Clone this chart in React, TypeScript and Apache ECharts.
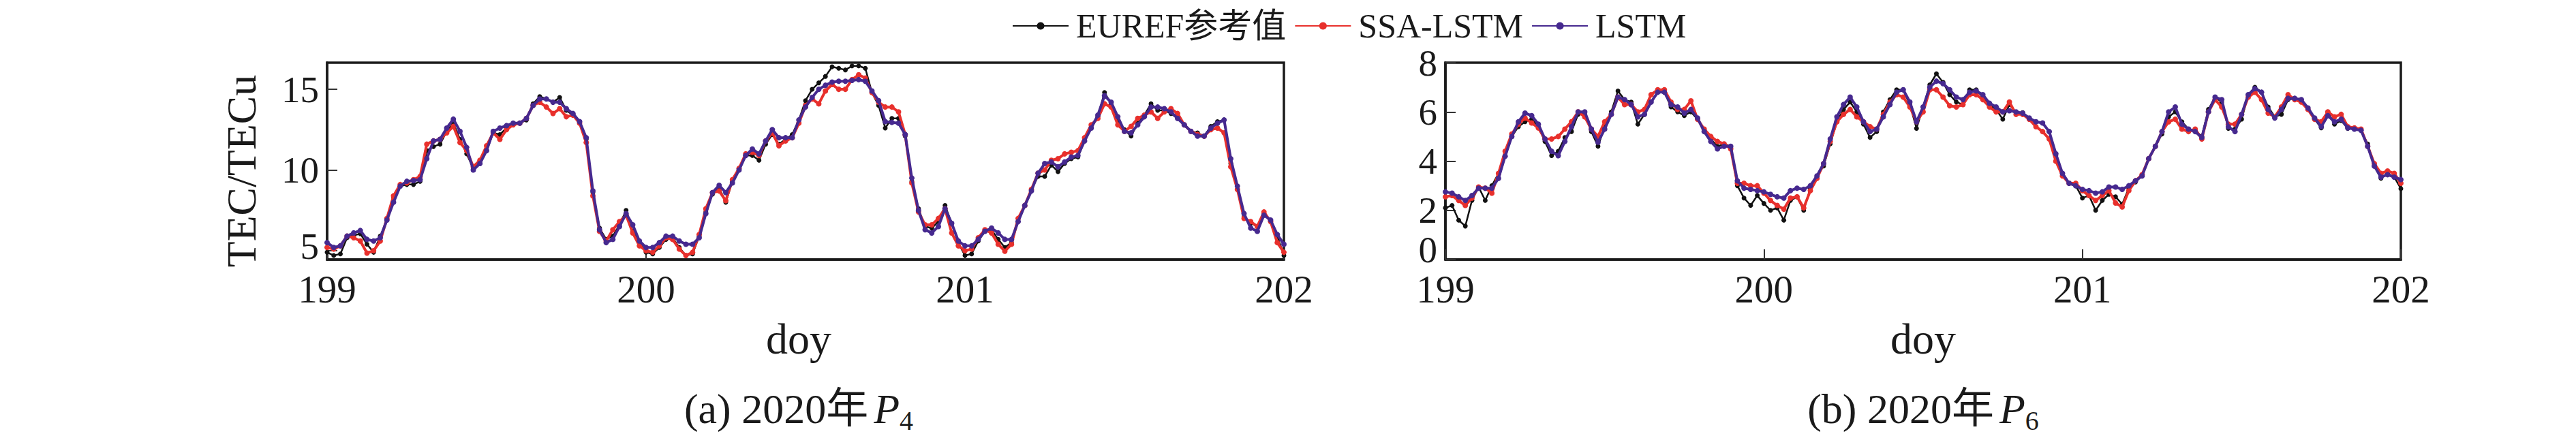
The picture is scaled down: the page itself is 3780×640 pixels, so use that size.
import React, { useEffect, useRef } from "react";
import * as echarts from "echarts";

// time index: half-hour steps from doy 199.0 to doy 202.0
const START_DOY = 199;
const STEP_HOURS = 0.5;

const SERIES_NAMES = ["EUREF参考值", "SSA-LSTM", "LSTM"];
const X_TICKS = [199, 200, 201, 202];
const LEFT_Y_TICKS = [5, 10, 15];
const RIGHT_Y_TICKS = [0, 2, 4, 6, 8];
const CAPTIONS = ["(a) 2020年", "(b) 2020年"];
const CAPTION_SUBS = ["4", "6"];

// (a) P4
const LEFT_EUREF = [
  4.9, 4.7, 4.8, 5.8, 5.95, 6.05, 5.4, 4.9, 5.9, 6.9,
  8.3, 9.0, 9.1, 9.1, 9.3, 11.2, 11.45, 11.6, 12.4, 12.9,
  11.9, 11.0, 10.1, 10.4, 11.2, 12.3, 12.2, 12.6, 12.8, 12.9,
  13.1, 14.1, 14.55, 14.4, 14.2, 14.5, 13.7, 13.4, 13.0, 11.9,
  8.6, 6.4, 5.7, 5.9, 6.6, 7.5, 6.2, 5.5, 4.9, 4.8,
  5.2, 5.7, 5.8, 5.2, 4.7, 4.8, 5.9, 7.4, 8.5, 8.9,
  8.0, 9.3, 10.0, 10.9, 10.9, 10.6, 11.6, 12.2, 11.6, 11.9,
  12.2, 13.1, 14.3, 15.0, 15.4, 15.8, 16.4, 16.3, 16.2, 16.45,
  16.45, 16.3, 14.8, 14.0, 12.6, 13.2, 13.2, 12.1, 9.3, 7.6,
  6.5, 6.4, 6.8, 7.8, 6.7, 5.5, 4.7, 4.8, 5.6, 6.2,
  6.3, 5.7, 5.2, 5.5, 6.8, 7.8, 8.8, 9.6, 9.6, 10.3,
  9.9, 10.4, 10.7, 10.8, 11.8, 12.6, 13.3, 14.8, 14.1, 13.1,
  12.5, 12.1, 12.9, 13.4, 14.1, 13.7, 13.7, 13.5, 13.2, 12.8,
  12.4, 12.3, 12.1, 12.7, 13.0, 13.1, 10.4, 8.8, 7.1, 6.7,
  6.5, 7.3, 6.8, 5.9, 4.7,
];
const LEFT_SSA = [
  5.2, 5.1, 5.3, 5.9, 5.8, 5.6, 4.85, 5.0, 5.6, 7.0,
  8.4, 9.1, 9.2, 9.4, 9.6, 11.6, 11.8, 11.9, 12.3, 12.7,
  11.7, 11.2, 10.2, 10.6, 11.5, 12.3, 11.9, 12.5, 12.8, 12.9,
  13.2, 14.0, 14.2, 13.9, 13.5, 13.8, 13.3, 13.4, 12.9, 11.7,
  8.4, 6.2, 5.6, 6.3, 6.8, 7.2, 6.1, 5.3, 5.0, 4.9,
  5.3, 5.8, 5.7, 5.1, 4.7, 4.9, 6.0, 7.6, 8.6, 8.7,
  8.1, 9.4, 10.1, 11.0, 11.1, 10.9, 11.8, 12.3, 11.5, 11.8,
  12.0, 12.9, 14.0, 14.4, 14.1, 14.9, 15.3, 15.0, 15.0, 15.6,
  15.9, 15.7, 14.8, 14.2, 13.9, 13.9, 13.6, 12.2, 9.2, 7.4,
  6.6, 6.6, 7.0, 7.6, 6.1, 5.3, 5.0, 5.1, 5.8, 6.3,
  6.1, 5.4, 4.97, 5.4, 7.0, 7.8, 8.8, 9.8, 10.0, 10.6,
  10.7, 11.0, 11.1, 11.2, 12.0, 12.8, 13.2, 14.1, 13.9, 12.8,
  12.4, 12.7, 13.2, 13.4, 13.6, 13.2, 13.6, 13.8, 13.5, 12.8,
  12.4, 12.2, 12.1, 12.5, 12.6, 12.3, 10.2, 8.8, 7.0, 6.8,
  6.5, 7.4, 6.8, 5.5, 4.9,
];
const LEFT_LSTM = [
  5.5, 5.2, 5.3, 5.9, 6.1, 6.25, 5.7, 5.6, 5.8, 6.9,
  8.0, 9.0, 9.3, 9.35, 9.4, 10.7, 11.8, 11.9, 12.6, 13.15,
  12.4, 11.4, 10.0, 10.4, 11.2, 12.4, 12.6, 12.75, 12.9, 12.9,
  13.2, 14.0, 14.4, 14.4, 14.2, 14.2, 13.8, 13.5, 13.0, 12.0,
  8.7, 6.3, 5.5, 5.7, 6.5, 7.3, 6.6, 5.6, 5.2, 5.2,
  5.5, 5.9, 5.9, 5.6, 5.4, 5.4, 5.8, 7.3, 8.6, 9.05,
  8.6, 9.2, 10.0, 10.9, 11.3, 11.0, 11.8, 12.5, 12.0, 12.0,
  12.0, 13.1, 13.9, 14.5, 15.0, 15.25, 15.45, 15.5, 15.5, 15.55,
  15.6, 15.5, 14.9, 14.3, 13.0, 12.95, 12.9, 12.2, 9.5, 7.5,
  6.3, 6.1, 6.5, 7.6, 6.7, 5.6, 5.3, 5.3, 5.7, 6.2,
  6.4, 6.1, 5.7, 5.7, 6.8, 7.8, 8.7, 9.8, 10.4, 10.5,
  10.2, 10.5, 10.8, 10.9, 11.8, 12.6, 13.4, 14.6, 14.2, 13.3,
  12.4, 12.3, 12.8, 13.3, 13.9, 13.9, 13.8, 13.6, 13.2, 12.8,
  12.4, 12.1, 12.1, 12.6, 12.9, 13.1, 10.7, 9.0, 7.3, 6.4,
  6.2, 7.2, 6.9, 6.0, 5.4,
];

// (b) P6
const RIGHT_EUREF = [
  2.1, 2.2, 1.6, 1.36, 2.4, 2.95, 2.4, 3.0, 3.5, 4.2,
  5.0, 5.4, 5.6, 5.7, 5.4, 4.8, 4.22, 4.4, 4.96, 5.2,
  5.9, 5.9, 5.2, 4.6, 5.4, 6.0, 6.85, 6.5, 6.4, 5.5,
  5.9, 6.4, 6.8, 6.8, 6.2, 6.0, 5.85, 6.0, 5.7, 5.3,
  4.9, 4.6, 4.7, 4.6, 3.0, 2.5, 2.2, 2.6, 2.28, 2.0,
  2.1, 1.6, 2.4, 2.55, 2.0, 2.9, 3.4, 3.8, 4.7, 5.6,
  6.1, 6.4, 6.0, 5.5, 4.96, 5.2, 6.0, 6.5, 6.9, 6.9,
  6.3, 5.33, 6.2, 7.1, 7.55, 7.2, 6.7, 6.4, 6.3, 6.9,
  6.9, 6.6, 6.3, 6.1, 5.7, 6.3, 5.97, 5.97, 5.7, 5.6,
  5.55, 5.2, 4.22, 3.5, 3.1, 3.0, 2.5, 2.6, 2.0, 2.4,
  2.65, 2.55, 2.25, 2.9, 3.15, 3.4, 4.1, 4.6, 5.1, 5.8,
  6.0, 5.6, 5.3, 5.25, 5.0, 6.1, 6.6, 6.4, 5.33, 5.3,
  5.7, 6.7, 7.0, 6.8, 6.2, 5.8, 5.9, 6.5, 6.55, 6.5,
  6.16, 5.7, 5.35, 6.0, 5.5, 5.65, 5.33, 5.33, 5.25, 4.7,
  3.8, 3.3, 3.5, 3.35, 2.88,
];
const RIGHT_SSA = [
  2.55, 2.6, 2.4, 2.2, 2.5, 2.95, 2.9, 2.7, 3.5, 4.4,
  5.1, 5.5, 5.75, 5.55, 5.35, 4.9, 4.9, 5.0, 5.3, 5.6,
  6.0, 5.8, 5.3, 5.0, 5.6, 5.9, 6.6, 6.3, 6.3, 6.0,
  6.1, 6.7, 6.9, 6.9, 6.4, 6.1, 6.1, 6.45, 5.7, 5.3,
  5.0, 4.8, 4.7, 4.5, 3.1, 3.1, 3.0, 3.0, 2.7, 2.4,
  2.2, 2.05, 2.5, 2.55, 2.1, 2.8, 3.3, 3.9, 4.8, 5.6,
  5.9, 6.1, 5.8, 5.6, 5.4, 5.3, 5.9, 6.4, 6.7, 6.6,
  6.2, 5.6, 6.0, 6.9, 6.9, 6.6, 6.25, 6.2, 6.3, 6.7,
  6.7, 6.5, 6.2, 6.0, 6.0, 6.4, 5.9, 5.9, 5.7, 5.4,
  5.2, 4.9, 4.0, 3.4, 3.1, 3.1, 2.8, 2.6, 2.4, 2.6,
  2.8, 2.3, 2.14, 2.8, 3.2, 3.45, 4.1, 4.6, 5.2, 5.6,
  5.7, 5.3, 5.2, 5.3, 4.9, 6.0, 6.5, 6.2, 5.5, 5.5,
  5.9, 6.6, 6.8, 6.5, 5.95, 5.8, 6.2, 6.7, 6.5, 6.4,
  6.1, 5.7, 5.6, 6.0, 5.8, 5.9, 5.4, 5.35, 5.3, 4.6,
  3.9, 3.5, 3.6, 3.5, 3.1,
];
const RIGHT_LSTM = [
  2.75, 2.7, 2.55, 2.4, 2.6, 2.9, 2.9, 2.9, 3.3, 4.2,
  5.0, 5.6, 5.95, 5.85, 5.5, 4.9, 4.4, 4.22, 4.8, 5.4,
  6.0, 6.0, 5.3, 4.77, 5.3, 5.9, 6.6, 6.5, 6.3, 5.8,
  5.9, 6.4, 6.8, 6.8, 6.3, 6.2, 5.95, 6.1, 5.75, 5.2,
  4.8, 4.5, 4.6, 4.6, 3.2, 2.9, 2.85, 2.8, 2.75, 2.65,
  2.55, 2.5, 2.8, 2.9, 2.85, 3.0, 3.4, 3.9, 4.9, 5.8,
  6.3, 6.6, 6.2, 5.6, 5.2, 5.3, 5.8, 6.3, 6.8, 6.9,
  6.4, 5.6, 6.2, 7.0, 7.25, 7.15, 6.9, 6.6, 6.5, 6.8,
  6.85, 6.7, 6.35, 6.2, 6.0, 6.05, 6.0, 5.95, 5.75, 5.6,
  5.55, 5.2, 4.3, 3.5, 3.1, 3.0, 2.85, 2.8, 2.7, 2.75,
  2.95, 2.95, 2.85, 3.0, 3.2, 3.4, 4.1, 4.6, 5.2, 6.0,
  6.2, 5.5, 5.3, 5.2, 4.96, 6.0, 6.6, 6.5, 5.4, 5.2,
  5.9, 6.7, 6.95, 6.8, 6.1, 5.75, 6.1, 6.55, 6.55, 6.5,
  6.16, 5.75, 5.4, 5.85, 5.6, 5.7, 5.35, 5.3, 5.25, 4.6,
  3.8, 3.35, 3.45, 3.35, 3.25,
];

const COLORS = ["#111111", "#e8302c", "#46298f"];
const FONT = "'Liberation Serif', 'Times New Roman', 'Noto Sans CJK SC', serif";

const toPairs = (vals: number[]) =>
  vals.map((v, i) => [START_DOY + (i * STEP_HOURS) / 24, v]);

export default function App() {
  const ref = useRef<HTMLDivElement>(null);

  useEffect(() => {
    if (!ref.current) return;
    const chart = echarts.init(ref.current, null, { renderer: "svg" });

    const grids = [
      { left: 480, top: 92, width: 1404, height: 289 },
      { left: 2121, top: 92, width: 1402, height: 289 },
    ];

    const baseLabel = {
      fontFamily: FONT,
      fontSize: 55,
      color: "#1a1a1a",
    };

    const xAxes = grids.map((_, gi) => ({
      type: "value",
      gridIndex: gi,
      min: 199,
      max: 202,
      interval: 1,
      axisLine: { show: true, onZero: false, lineStyle: { color: "#1a1a1a", width: 3.5 } },
      axisTick: { show: true, inside: true, length: 15, lineStyle: { color: "#333", width: 2 } },
      axisLabel: {
        ...baseLabel,
        fontSize: 57,
        lineHeight: 40,
        margin: 23,
        showMinLabel: true,
        showMaxLabel: true,
        formatter: (v: number) => (X_TICKS.includes(v) ? String(v) : ""),
      },
      splitLine: { show: false },
    }));

    const lowRich = (shift: number) => ({
      lo: { fontFamily: FONT, fontSize: 55, color: "#1a1a1a", lineHeight: 32, padding: [0, 0, shift, 0] },
    });

    const yAxes = [
      {
        type: "value",
        gridIndex: 0,
        min: 4.45,
        max: 16.65,
        axisLine: { show: true, onZero: false, lineStyle: { color: "#1a1a1a", width: 3.5 } },
        axisTick: { show: true, inside: true, length: 15, customValues: LEFT_Y_TICKS, lineStyle: { color: "#333", width: 2 } },
        axisLabel: {
          ...baseLabel,
          lineHeight: 32,
          margin: 12,
          customValues: LEFT_Y_TICKS,
          formatter: (v: number) => (v === LEFT_Y_TICKS[0] ? `{lo|${v}}` : String(v)),
          rich: lowRich(12),
        },
        splitLine: { show: false },
      },
      {
        type: "value",
        gridIndex: 1,
        min: 0,
        max: 8,
        interval: 2,
        axisLine: { show: true, onZero: false, lineStyle: { color: "#1a1a1a", width: 3.5 } },
        axisTick: { show: true, inside: true, length: 15, lineStyle: { color: "#333", width: 2 } },
        axisLabel: {
          ...baseLabel,
          lineHeight: 32,
          margin: 12,
          showMinLabel: true,
          showMaxLabel: true,
          formatter: (v: number) =>
            v === RIGHT_Y_TICKS[0] ? `{lo|${v}}` : RIGHT_Y_TICKS.includes(v) ? String(v) : "",
          rich: lowRich(30),
        },
        splitLine: { show: false },
      },
    ];

    const groups = [
      [LEFT_EUREF, LEFT_SSA, LEFT_LSTM],
      [RIGHT_EUREF, RIGHT_SSA, RIGHT_LSTM],
    ];
    const styles = [
      { width: 2.5, size: 7, z: 2 },
      { width: 4, size: 8, z: 3 },
      { width: 4, size: 8, z: 4 },
    ];
    const series: any[] = [];
    groups.forEach((g, gi) => {
      g.forEach((vals, si) => {
        series.push({
          type: "line",
          name: SERIES_NAMES[si],
          xAxisIndex: gi,
          yAxisIndex: gi,
          data: toPairs(vals),
          symbol: "circle",
          symbolSize: styles[si].size,
          showSymbol: true,
          z: styles[si].z,
          color: COLORS[si],
          lineStyle: { color: COLORS[si], width: styles[si].width },
          itemStyle: { color: COLORS[si] },
        });
      });
    });

    const captionCenters = [1172, 2822];
    const graphic: any[] = [
      {
        type: "text",
        x: 354,
        y: 251,
        rotation: Math.PI / 2,
        style: {
          text: "TEC/TECu",
          font: `62px ${FONT}`,
          fill: "#1a1a1a",
          align: "center",
          verticalAlign: "middle",
        },
      },
    ];
    captionCenters.forEach((cx, i) => {
      graphic.push({
        type: "text",
        x: cx,
        y: 497,
        style: {
          text: "doy",
          font: `64px ${FONT}`,
          fill: "#1a1a1a",
          align: "center",
          verticalAlign: "middle",
        },
      });
      graphic.push({
        type: "text",
        x: cx,
        y: 600,
        style: {
          text: `{n|${CAPTIONS[i]}}{p|P}{s|${CAPTION_SUBS[i]}}`,
          align: "center",
          verticalAlign: "middle",
          rich: {
            n: { fontFamily: FONT, fontSize: 62, fill: "#1a1a1a", lineHeight: 70 },
            p: { fontFamily: FONT, fontSize: 62, fontStyle: "italic", fill: "#1a1a1a", lineHeight: 70, padding: [0, 0, 0, 8] },
            s: { fontFamily: FONT, fontSize: 40, fill: "#1a1a1a", lineHeight: 70, padding: [34, 0, 0, 0] },
          },
        },
      });
    });

    chart.setOption({
      animation: false,
      backgroundColor: "#ffffff",
      legend: {
        data: SERIES_NAMES,
        left: 1480,
        top: 8,
        itemWidth: 82,
        itemHeight: 14,
        itemGap: 12,
        textStyle: { fontFamily: FONT, fontSize: 50, lineHeight: 44, color: "#1a1a1a", padding: [0, 0, 0, 6] },
      },
      grid: grids.map((g) => ({ ...g, show: true, borderColor: "#1a1a1a", borderWidth: 3.5, backgroundColor: "transparent" })),
      xAxis: xAxes,
      yAxis: yAxes,
      series,
      graphic,
    });

    return () => chart.dispose();
  }, []);

  return (
    <div
      ref={ref}
      style={{ position: "absolute", left: 0, top: 0, width: 3780, height: 640, background: "#fff" }}
    />
  );
}
